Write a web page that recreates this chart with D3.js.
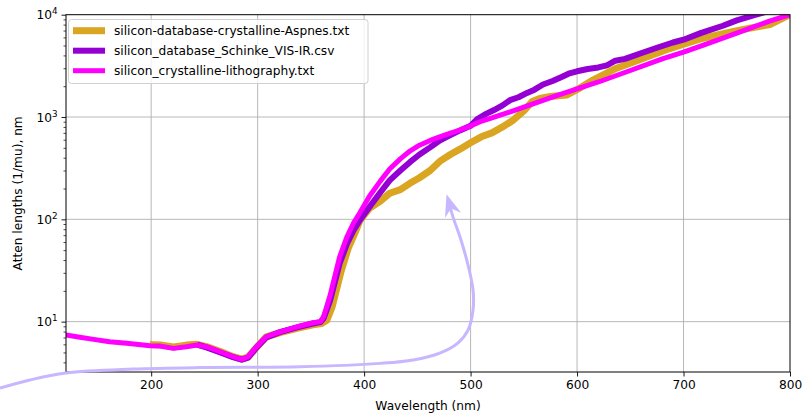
<!DOCTYPE html>
<html>
<head>
<meta charset="utf-8">
<script src="https://cdn.jsdelivr.net/npm/d3@7"></script>
<style>
  html, body { margin: 0; padding: 0; background: #fff; }
  svg { display: block; font-family: "DejaVu Sans", sans-serif; }
</style>
</head>
<body>
<svg id="chart" width="804" height="415"></svg>
<script>
// Attenuation length of crystalline silicon from three optical-constant sources.
const SERIES_NAMES = [
  "silicon-database-crystalline-Aspnes.txt",
  "silicon_database_Schinke_VIS-IR.csv",
  "silicon_crystalline-lithography.txt"
];

// Aspnes (nm, attenuation length in nm)
const ASPNES_WL = [202, 210, 221, 233, 243, 252, 265, 277, 285, 291, 299, 308, 321, 337, 352, 360, 365,
  370, 378, 385, 391, 396, 405, 415, 424, 434, 443, 452, 462, 471, 481, 490, 500, 510, 520, 530, 540,
  550, 558, 565, 575, 590, 603, 615, 625, 637, 653, 668, 684, 700, 716, 731, 747, 760, 772, 781, 800];
const ASPNES_LEN = [5.95, 5.9, 5.65, 5.9, 6.0, 5.7, 5.1, 4.55, 4.3, 4.5, 5.6, 7.1, 7.8, 8.6, 9.3, 9.6, 10.3,
  14, 30, 52, 72, 97, 128, 150, 180, 195, 225, 255, 300, 368, 430, 485, 560, 640, 700, 800, 930,
  1150, 1420, 1520, 1590, 1640, 1930, 2300, 2600, 3000, 3450, 3950, 4550, 5150, 5800, 6300, 6850, 7300, 7700, 8000, 10000];

// Schinke VIS-IR
const SCHINKE_WL = [246, 252, 265, 277, 285, 291, 299, 308, 321, 337, 352, 359, 362, 368, 377, 384, 390,
  396, 405, 415, 424, 434, 443, 452, 462, 471, 481, 490, 500, 506, 515, 522, 530, 537, 545, 553, 560,
  568, 577, 585, 592, 600, 610, 620, 628, 636, 645, 660, 675, 690, 700, 716, 737, 750, 768, 785];
const SCHINKE_LEN = [5.85, 5.6, 5.0, 4.5, 4.25, 4.45, 5.6, 7.0, 7.9, 8.8, 9.6, 9.9, 10.8, 16, 37, 58, 78,
  98, 132, 182, 240, 300, 362, 430, 505, 590, 665, 740, 820, 950, 1080, 1170, 1300, 1460, 1560, 1720, 1850,
  2080, 2250, 2450, 2650, 2800, 2950, 3050, 3200, 3550, 3700, 4200, 4750, 5350, 5700, 6600, 7800, 8800, 10000, 11200];

// Lithography set
const LITHO_WL = [120, 133, 146, 161, 177, 199, 208, 221, 233, 243, 252, 265, 277, 285, 291, 299, 308,
  321, 337, 352, 359, 362, 368, 377, 384, 390, 396, 405, 415, 424, 434, 443, 452, 462, 471, 481, 490,
  500, 509, 520, 540, 560, 580, 600, 620, 650, 680, 700, 720, 750, 780, 800];
const LITHO_LEN = [7.39, 7.03, 6.71, 6.36, 6.14, 5.81, 5.77, 5.48, 5.69, 5.91, 5.69, 5.08, 4.54, 4.28, 4.54, 5.69, 7.12,
  7.96, 8.91, 9.75, 10.0, 11.2, 18, 43, 68, 92, 116, 168, 235, 310, 390, 465, 530, 590, 640, 695, 746,
  820, 900, 980, 1150, 1360, 1610, 1880, 2200, 2850, 3700, 4300, 5100, 6600, 8600, 10000];

const SERIES_COLORS = ["#daa520", "#9400d3", "#ff00ff"];
const SERIES_WIDTHS = [7, 6, 5];

const X_TICKS = [200, 300, 400, 500, 600, 700, 800];
const Y_TICKS = [10, 100, 1000, 10000];
const Y_EXPONENTS = ["1", "2", "3", "4"];

// Curved pointer drawn over the plot, given in data units (nm, length)
const POINTER_PATH = [[58, 2.24], [86, 2.69], [120, 3.15], [183, 3.44], [246, 3.56], [340, 3.62],
  [415, 3.91], [446, 4.22], [471, 4.93], [488, 6.18], [497.6, 8.27], [502.3, 13.0], [502.3, 20.4],
  [497.6, 35.7], [490.1, 67.1], [483.5, 105], [479.5, 150]];
const POINTER_TIP = [477.4, 176];

const svg = d3.select("#chart");
const plot = { left: 66, right: 790, top: 14.7, bottom: 372 };
const FONT = 12.2;

const x = d3.scaleLinear().domain([120, 800]).range([plot.left, plot.right]);
const y = d3.scaleLog().domain([3.22, 1e4]).range([plot.bottom, plot.top]);

svg.append("defs").append("clipPath").attr("id", "plotclip")
  .append("rect")
  .attr("x", plot.left).attr("y", plot.top)
  .attr("width", plot.right - plot.left).attr("height", plot.bottom - plot.top);

// grid
const grid = svg.append("g").attr("stroke", "#b0b0b0").attr("stroke-width", 0.9);
grid.selectAll("line.gx").data(X_TICKS.filter(d => d < 800)).join("line")
  .attr("x1", d => x(d)).attr("x2", d => x(d))
  .attr("y1", plot.top).attr("y2", plot.bottom);
grid.selectAll("line.gy").data(Y_TICKS.filter(d => d < 1e4)).join("line")
  .attr("x1", plot.left).attr("x2", plot.right)
  .attr("y1", d => y(d)).attr("y2", d => y(d));

// series
const series = [
  { wl: ASPNES_WL, len: ASPNES_LEN },
  { wl: SCHINKE_WL, len: SCHINKE_LEN },
  { wl: LITHO_WL, len: LITHO_LEN }
];
const line = d3.line().x(d => x(d[0])).y(d => y(d[1]));
const lines = svg.append("g").attr("clip-path", "url(#plotclip)");
series.forEach((s, i) => {
  lines.append("path")
    .datum(s.wl.map((w, j) => [w, s.len[j]]))
    .attr("d", line)
    .attr("fill", "none")
    .attr("stroke", SERIES_COLORS[i])
    .attr("stroke-width", SERIES_WIDTHS[i])
    .attr("stroke-linejoin", "round")
    .attr("stroke-linecap", "square");
});

// axes
const xAxis = svg.append("g")
  .attr("transform", `translate(0,${plot.bottom})`)
  .call(d3.axisBottom(x).tickValues(X_TICKS).tickSize(4.5).tickSizeOuter(0).tickPadding(4).tickFormat(d3.format("d")));
xAxis.select(".domain").remove();
xAxis.selectAll("text").attr("font-size", FONT).attr("fill", "#000").attr("font-family", "DejaVu Sans");
xAxis.selectAll("line").attr("stroke", "#000").attr("stroke-width", 0.9);

const yMinor = [];
for (let e = 0; e <= 3; e++) for (let m = 2; m <= 9; m++) {
  const v = m * Math.pow(10, e);
  if (v > 3.22 && v < 1e4) yMinor.push(v);
}
const yAxisMinor = svg.append("g")
  .attr("transform", `translate(${plot.left},0)`)
  .call(d3.axisLeft(y).tickValues(yMinor).tickSize(2.5).tickSizeOuter(0).tickFormat(""));
yAxisMinor.select(".domain").remove();
yAxisMinor.selectAll("line").attr("stroke", "#000").attr("stroke-width", 0.7);

const yAxis = svg.append("g")
  .attr("transform", `translate(${plot.left},0)`)
  .call(d3.axisLeft(y).tickValues(Y_TICKS).tickSize(4.5).tickSizeOuter(0).tickFormat(""));
yAxis.select(".domain").remove();
yAxis.selectAll("line").attr("stroke", "#000").attr("stroke-width", 0.9);

const yLabels = svg.append("g").attr("font-size", FONT).attr("fill", "#000");
Y_TICKS.forEach((v, i) => {
  const t = yLabels.append("text")
    .attr("x", plot.left - 8.5).attr("y", y(v) + 4.6)
    .attr("text-anchor", "end");
  t.append("tspan").text("10");
  t.append("tspan").attr("font-size", FONT * 0.72).attr("dy", -5).text(Y_EXPONENTS[i]);
});

// frame
svg.append("rect")
  .attr("x", plot.left).attr("y", plot.top)
  .attr("width", plot.right - plot.left).attr("height", plot.bottom - plot.top)
  .attr("fill", "none").attr("stroke", "#000").attr("stroke-width", 1);

// axis titles
svg.append("text")
  .attr("x", (plot.left + plot.right) / 2).attr("y", 410)
  .attr("text-anchor", "middle").attr("font-size", FONT)
  .text("Wavelength (nm)");
svg.append("text")
  .attr("transform", `translate(22,${(plot.top + plot.bottom) / 2}) rotate(-90)`)
  .attr("text-anchor", "middle").attr("font-size", FONT)
  .text("Atten lengths (1/mu), nm");

// legend
const legend = svg.append("g");
legend.append("rect")
  .attr("x", 68.5).attr("y", 19.5).attr("width", 299.5).attr("height", 64)
  .attr("rx", 3).attr("fill", "#fff").attr("fill-opacity", 0.8)
  .attr("stroke", "#d0d0d0").attr("stroke-width", 1);
SERIES_NAMES.forEach((name, i) => {
  const yy = 30.7 + i * 20;
  legend.append("line")
    .attr("x1", 73).attr("x2", 105).attr("y1", yy).attr("y2", yy)
    .attr("stroke", SERIES_COLORS[i]).attr("stroke-width", SERIES_WIDTHS[i]);
  legend.append("text")
    .attr("x", 114).attr("y", yy + 4.4).attr("font-size", FONT)
    .text(name);
});

// pointer annotation
const pointerColor = "#c8b6ff";
const pointerLine = d3.line().x(d => x(d[0])).y(d => y(d[1])).curve(d3.curveCatmullRom);
svg.append("path")
  .datum(POINTER_PATH)
  .attr("d", pointerLine)
  .attr("fill", "none").attr("stroke", pointerColor).attr("stroke-width", 3);
const last = POINTER_PATH[POINTER_PATH.length - 1];
const tx = x(POINTER_TIP[0]), ty = y(POINTER_TIP[1]);
const lx = x(last[0]), ly = y(last[1]);
const dx = tx - lx, dy = ty - ly, dl = Math.hypot(dx, dy);
const ux = dx / dl, uy = dy / dl, px = -uy, py = ux;
const headLen = 22, halfW = 8.5, notch = 7;
const bx = tx - ux * headLen, by = ty - uy * headLen;
const head = d3.path();
head.moveTo(tx, ty);
head.lineTo(bx + px * halfW, by + py * halfW);
head.lineTo(tx - ux * (headLen - notch), ty - uy * (headLen - notch));
head.lineTo(bx - px * halfW, by - py * halfW);
head.closePath();
svg.append("path").attr("d", head.toString()).attr("fill", pointerColor);
</script>
</body>
</html>
